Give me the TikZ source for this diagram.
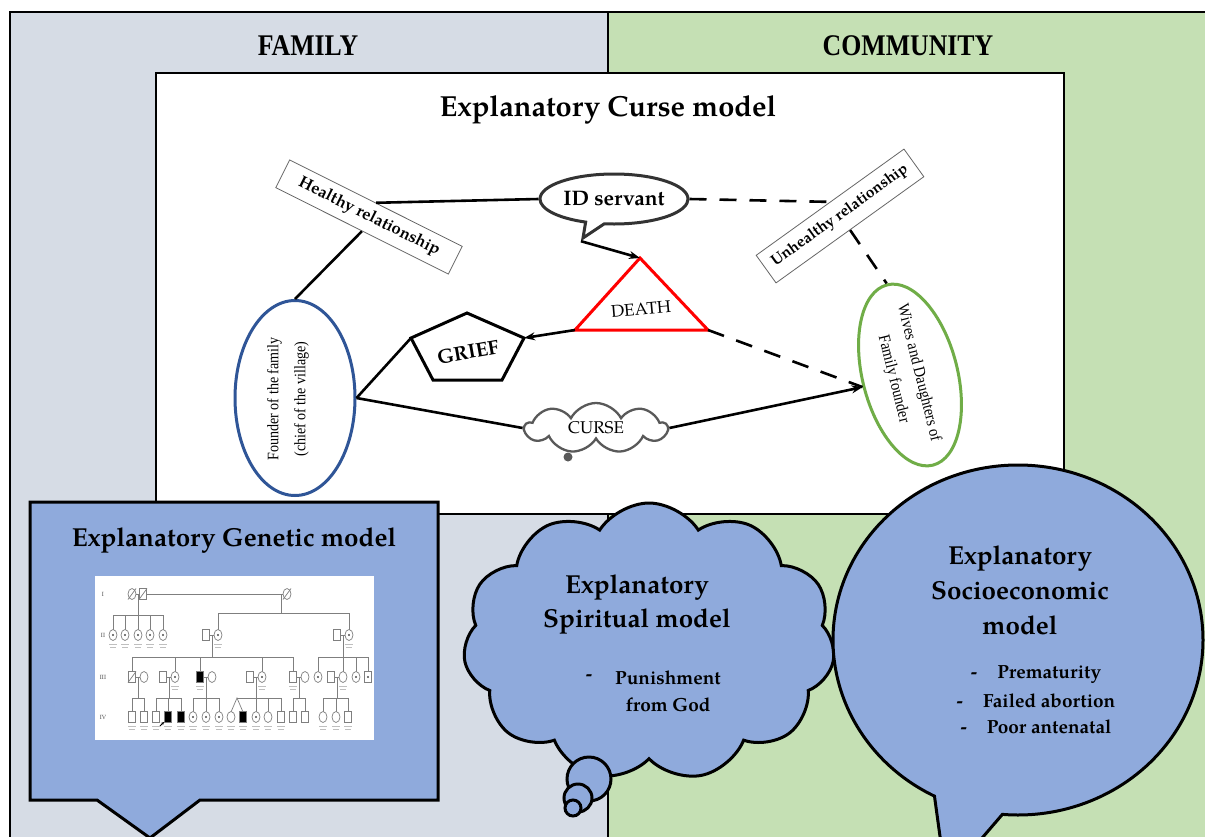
\documentclass[tikz,border=0pt]{standalone}
\usepackage{fontspec}
\setmainfont{TeX Gyre Pagella}
\newfontfamily\timesf{Liberation Serif}[FakeStretch=0.88]
\newfontfamily\condf{Liberation Serif}[FakeStretch=0.86]
\usetikzlibrary{shapes.geometric,shapes.symbols,shapes.callouts,arrows.meta,calc}
\definecolor{famc}{HTML}{D6DCE5}
\definecolor{comc}{HTML}{C5E0B4}
\definecolor{bluef}{HTML}{8FAADC}
\definecolor{fdr}{HTML}{2F5597}
\definecolor{wvg}{HTML}{70AD47}
\definecolor{pedg}{HTML}{7F7F7F}
\newcommand\pedS[1]{\draw[pedl,fill=white] (#1) ++(-3.5,-5.5) rectangle ++(7,11);}
\newcommand\pedSf[1]{\draw[pedl,fill=black] (#1) ++(-3.5,-5.5) rectangle ++(7,11);}
\newcommand\pedC[1]{\draw[pedl,fill=white] (#1) ellipse [x radius=4,y radius=5.5];}
\newcommand\pedDot[1]{\fill[black!70] (#1) circle (1.1);}
\newcommand\pedSl[1]{\draw[pedl] (#1) ++(-4,5.5) -- ++(8,-11);}
\newcommand\pedLab[2]{\draw[black!25,line width=0.9pt] (#1-4,#2+9) -- (#1+4,#2+9) (#1-3,#2+12.5) -- (#1+3,#2+12.5);}
\begin{document}
\begin{tikzpicture}[x=1pt,y=-1pt,
  conn/.style={line width=2.6pt,black},
  dconn/.style={conn,dash pattern=on 17pt off 13pt},
  tip/.style={-{Stealth[length=11pt,width=8pt]}},
  relbox/.style={draw=black!60,line width=0.8pt,fill=white,inner sep=0pt},
  pedl/.style={draw=pedg,line width=0.7pt},
  bluebox/.style={fill=bluef,draw=black,line width=3pt},
  ttl/.style={font=\bfseries\fontsize{26}{34}\selectfont,align=center},
  bul/.style={font=\bfseries\fontsize{19}{19}\selectfont}]
\useasboundingbox (0,0) rectangle (1205,836);
\clip (0,0) rectangle (1205,836);
% panels
\fill[famc] (10,12) rectangle (608,845);
\fill[comc] (608,12) rectangle (1215,845);
\draw[line width=1.5pt] (10,845) -- (10,12) -- (1215,12);
\draw[line width=1.5pt] (608,12) -- (608,845);
\node[font=\condf\bfseries\fontsize{30}{30}\selectfont] (fam) at (308,46) {FAMILY};
\node[font=\condf\bfseries\fontsize{30}{30}\selectfont] (com) at (908,46) {COMMUNITY};
% curse model box
\node[draw,fill=white,line width=1.5pt,minimum width=908pt,minimum height=441pt,inner sep=0pt,anchor=north west] (cbox) at (155,72) {};
\node[font=\bfseries\fontsize{29}{29}\selectfont] (ctitle) at (608,110) {Explanatory Curse model};
% nodes
\node[relbox,rotate=-26.6,minimum width=193pt,minimum height=31pt,font=\bfseries\fontsize{16.5}{16.5}\selectfont] (hr) at (369,217) {Healthy relationship};
\node[relbox,rotate=35.7,minimum width=182pt,minimum height=34pt,font=\bfseries\fontsize{15.5}{15.5}\selectfont] (ub) at (840,216) {Unhealthy relationship};
\node[ellipse callout,draw=black!80,line width=3pt,fill=white,minimum width=148pt,minimum height=50pt,inner sep=0pt,
  callout absolute pointer={(583,238)},font=\bfseries\fontsize{21}{21}\selectfont] (ids) at (614,199) {ID servant};
\coordinate (dT) at (640,258);
\coordinate (dL) at (575,330);
\coordinate (dR) at (708,330);
\draw[red,line width=3pt,line join=miter] (dT) -- (dL) -- (dR) -- cycle;
\node[rotate=5,font=\fontsize{17}{17}\selectfont] (death) at (641,309) {DEATH};
\coordinate (gT) at (467,313);
\coordinate (gR) at (524,338);
\coordinate (gBR) at (502,380);
\coordinate (gBL) at (433,380);
\coordinate (gL) at (411,338);
\draw[line width=3pt] (gT) -- (gR) -- (gBR) -- (gBL) -- (gL) -- cycle;
\node[rotate=10,font=\bfseries\fontsize{20}{20}\selectfont] (grief) at (468,352) {GRIEF};
\node[ellipse,draw=fdr,line width=3pt,fill=white,minimum width=120pt,minimum height=195pt,inner sep=0pt] (fdrn) at (295,398) {};
\node[rotate=90,align=center,font=\timesf\fontsize{16}{27}\selectfont] (fdrt) at (288,399) {Founder of the family\\(chief of the village)};
\node[ellipse,draw=wvg,line width=3pt,fill=white,rotate=-75.7,minimum width=186pt,minimum height=95pt,inner sep=0pt] (wv) at (910,375) {};
\node[rotate=-76,align=center,font=\timesf\fontsize{16.5}{26}\selectfont] (wvt) at (906,376) {Wives and Daughters of\\Family founder};
\node[cloud,cloud puffs=9,cloud puff arc=125,aspect=2.8,draw=black!65,line width=2.3pt,fill=white,minimum width=142pt,minimum height=50pt,inner sep=0pt,font=\fontsize{17}{17}\selectfont] (curse) at (596,428) {CURSE};
\node[circle,fill=black!65,minimum size=9pt,inner sep=0pt] (ctail) at (568,457) {};
% connectors
\draw[conn] (hr.north) -- (ids.west);
\draw[conn] (hr.south) -- (fdrn.north);
\draw[conn,tip] (ids.pointer) -- (dT);
\draw[dconn] (ids.east) -- (ub.north);
\draw[dconn] (ub.south) -- (wv.west);
\draw[dconn] (dR) -- (wv.south);
\draw[conn,tip] (dL) -- (gR);
\draw[conn] (fdrn.east) -- (gL);
\draw[conn] (fdrn.east) -- (curse.west);
\draw[conn,tip] (curse.east) -- (wv.south);
% genetic model
\draw[bluebox,line join=miter] (30,502) -- (438,502) -- (438,800) -- (200,800) -- (150,838) -- (97,800) -- (30,800) -- cycle;
\node[font=\bfseries\fontsize{26}{26}\selectfont] (gtitle) at (234,541) {Explanatory Genetic model};
\node[fill=white,minimum width=279pt,minimum height=164pt,inner sep=0pt,anchor=north west] (ped) at (95,576) {};
% pedigree
\foreach \g/\y in {I/594,II/635,III/677,IV/717}{\node[font=\fontsize{6}{6}\selectfont,text=black!70] at (103,\y) {\g};}
\draw[pedl] (132,594) -- (287,594);
\draw[pedl] (138,594) -- (138,615) (113,615) -- (163,615);
\foreach \x in {113,125,138,150,163}{\draw[pedl] (\x,615) -- (\x,630);}
\draw[pedl] (281,594) -- (281,613) (218,613) -- (349,613) (218,613) -- (218,630) (349,613) -- (349,630);
\draw[pedl] (206,635) -- (218,635) (212,635) -- (212,657) (132,657) -- (293,657);
\foreach \x in {132,175,200,262,293}{\draw[pedl] (\x,657) -- (\x,672);}
\draw[pedl] (337,635) -- (349,635) (343,635) -- (343,657) (318,657) -- (368,657);
\foreach \x in {318,343,356,368}{\draw[pedl] (\x,657) -- (\x,672);}
\foreach \a/\b in {132/144,163/175,200/212,250/262,293/305,331/343}{\draw[pedl] (\a,677) -- (\b,677);}
\draw[pedl] (138,677) -- (138,698) (132,698) -- (144,698);
\draw[pedl] (169,677) -- (169,698) (156,698) -- (181,698);
\draw[pedl] (206,677) -- (206,698) (193,698) -- (219,698);
\draw[pedl] (256,677) -- (256,698) (237,698) -- (281,698);
\draw[pedl] (299,677) -- (299,698) (293,698) -- (305,698);
\draw[pedl] (337,677) -- (337,698) (323,698) -- (348,698);
\foreach \x in {132,144,156,168,181,193,206,219,256,268,281,293,305,323,336,348}{\draw[pedl] (\x,698) -- (\x,712);}
\draw[pedl] (231,712) -- (237,698) -- (243,712);
\pedC{132,594}\pedSl{132,594}
\pedS{143,594}\pedSl{143,594}
\pedC{287,594}\pedSl{287,594}
\foreach \x in {113,125,138,150,163}{\pedC{\x,635}\pedDot{\x,635}}
\pedS{206,635}\pedC{218,635}\pedDot{218,635}
\pedS{337,635}\pedC{349,635}\pedDot{349,635}
\pedS{132,677}\pedSl{132,677}\pedC{144,677}
\pedS{163,677}\pedC{175,677}\pedDot{175,677}
\pedSf{200,677}\pedC{212,677}
\pedS{250,677}\pedC{262,677}\pedDot{262,677}
\pedS{293,677}\pedC{305,677}
\pedC{318,677}\pedDot{318,677}
\pedS{331,677}\pedC{343,677}
\pedC{356,677}\pedDot{356,677}
\pedS{368,677}\pedDot{368,677}
\pedS{132,717}\pedS{144,717}\pedS{156,717}
\pedSf{168,717}\pedSf{181,717}
\draw[black,line width=0.8pt,-{Stealth[length=3pt,width=3pt]}] (160,726) -- (164,722);
\foreach \x in {193,206,219}{\pedC{\x,717}\pedDot{\x,717}}
\pedC{231,717}\pedSf{243,717}\pedC{256,717}\pedDot{256,717}\pedC{268,717}\pedS{281,717}
\pedS{293,717}\pedS{305,717}
\pedC{323,717}\pedC{336,717}\pedS{348,717}
\foreach \x in {113,125,138,150,163,218,349}{\pedLab{\x}{635}}
\foreach \x in {175,200,262,293,343}{\pedLab{\x}{677}}
\foreach \x in {132,144,156,168,181,193,206,219,231,243,256,268,281,323,336,348}{\pedLab{\x}{717}}
% spiritual cloud
\node[cloud,cloud puffs=11,cloud puff arc=115,aspect=1.4,bluebox,minimum width=372pt,minimum height=278pt,inner sep=0pt] (spir) at (649,642) {};
\node[circle,bluebox,minimum size=44pt,inner sep=0pt] (tb1) at (589,779) {};
\node[circle,bluebox,minimum size=28pt,inner sep=0pt] (tb2) at (578,798) {};
\node[circle,bluebox,minimum size=16pt,inner sep=0pt] (tb3) at (573,808) {};
\node[ttl] (stitle) at (637,604) {Explanatory\\Spiritual model};
\node[bul] (sdash) at (589,678) {-};
\node[bul,align=center,font=\bfseries\fontsize{19}{27}\selectfont] (sbul) at (668,691) {Punishment\\from God};
% socioeconomic
\node[ellipse callout,bluebox,minimum width=370pt,minimum height=350pt,inner sep=0pt,callout absolute pointer={(946,880)},callout pointer arc=22] (socio) at (1018,640) {};
\node[ttl,font=\bfseries\fontsize{26}{35}\selectfont] (sotitle) at (1020,590) {Explanatory\\Socioeconomic\\model};
\node[bul] (sb1) at (1036,675) {-\hspace{20pt}Prematurity};
\node[bul] (sb2) at (1036,701) {-\hspace{20pt}Failed abortion};
\node[bul] (sb3) at (1036,727) {-\hspace{20pt}Poor antenatal};
\end{tikzpicture}
\end{document}
